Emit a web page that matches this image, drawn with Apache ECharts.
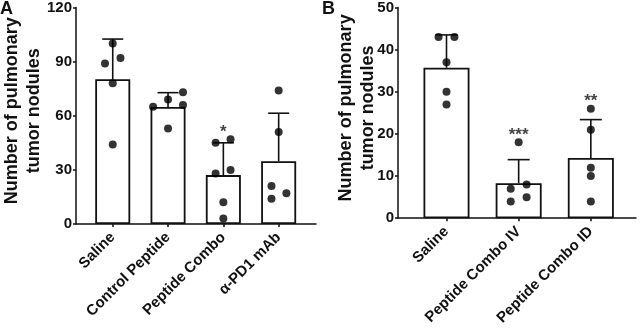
<!DOCTYPE html>
<html>
<head>
<meta charset="utf-8">
<script src="https://cdn.jsdelivr.net/npm/echarts@6/dist/echarts.min.js"></script>
<style>
  html, body { margin: 0; padding: 0; background: #fff; }
  #main { width: 641px; height: 328px; }
</style>
</head>
<body>
<div id="main"></div>
<script>
// panel A
var catsA = ['Saline', 'Control Peptide', 'Peptide Combo', 'α-PD1 mAb']
var meanA = [80.2, 64.9, 27.1, 34.8]
var sdTopA = [102.5, 72.8, 45, 61.4]
var dotsA = [
  [100, 89, 92, 78, 44],
  [65, 69, 73, 66, 53],
  [45, 47, 28, 30, 12, 3],
  [74, 51, 21, 17, 14]
]
// horizontal spread of the dots inside each group (category units)
var jitterA = [
  [0, -0.14, 0.14, 0, 0],
  [-0.27, 0, 0.27, 0.27, 0],
  [-0.14, 0.13, -0.14, 0.13, 0, 0],
  [0, 0, -0.13, 0.14, -0.13]
]
var sigA = ['', '', '*', '']
var ticksA = [0, 30, 60, 90, 120]

// panel B
var catsB = ['Saline', 'Peptide Combo IV', 'Peptide Combo ID']
var meanB = [35.7, 8.3, 14.3]
var sdTopB = [43.5, 13.9, 23.4]
var dotsB = [
  [43, 43, 37, 30, 27],
  [18, 7, 8, 4, 5],
  [26, 21, 12, 10, 4]
]
var jitterB = [
  [-0.11, 0.11, 0, 0, 0],
  [0, -0.11, 0.11, -0.11, 0.11],
  [0, 0, 0, 0, 0]
]
var sigB = ['', '***', '**']
var ticksB = [0, 10, 20, 30, 40, 50]

var FONT = 'Liberation Sans, Arial, sans-serif'
var INK = '#111'

let myChart = echarts.init(document.getElementById('main'))

function xAxisFor (gridIndex, cats, min, max) {
  let idx = cats.map((c, i) => i)
  return {
    type: 'value',
    gridIndex: gridIndex,
    min: min,
    max: max,
    splitLine: { show: false },
    axisLine: { show: true, onZero: false, lineStyle: { color: INK, width: 1.5 } },
    axisTick: { show: true, customValues: idx, length: 3, lineStyle: { color: INK, width: 1.5 } },
    axisLabel: {
      customValues: idx,
      rotate: 45,
      margin: 11,
      color: INK,
      fontFamily: FONT,
      fontWeight: 'bold',
      fontSize: 15,
      formatter: v => cats[Math.round(v)]
    }
  }
}

function yAxisFor (gridIndex, ticks, gap) {
  return {
    type: 'value',
    gridIndex: gridIndex,
    min: ticks[0],
    max: ticks[ticks.length - 1],
    interval: ticks[1] - ticks[0],
    name: 'Number of pulmonary\ntumor nodules',
    nameLocation: 'middle',
    nameRotate: 90,
    nameGap: gap,
    nameMoveOverlap: false,
    nameTextStyle: {
      color: INK,
      fontFamily: FONT,
      fontWeight: 'bold',
      fontSize: 18,
      lineHeight: 22,
      padding: [0, 0, 0, 10]
    },
    splitLine: { show: false },
    axisLine: { show: true, onZero: false, lineStyle: { color: INK, width: 1.5 } },
    axisTick: { show: true, length: 3, lineStyle: { color: INK, width: 1.5 } },
    axisLabel: {
      margin: 4,
      color: INK,
      fontFamily: FONT,
      fontWeight: 'bold',
      fontSize: 15
    }
  }
}

function seriesFor (axisIndex, means, sdTop, dots, jitter, sig, barWidth, capWidth) {
  let barData = means.map((m, i) => [i, m])
  let errData = means.map((m, i) => [i, m, sdTop[i]])
  let dotData = []
  dots.forEach((grp, i) => {
    grp.forEach((v, j) => dotData.push([i + jitter[i][j], v]))
  })
  let sigData = []
  sig.forEach((s, i) => {
    if (!s) return
    let top = Math.max(sdTop[i], Math.max.apply(null, dots[i]))
    sigData.push({ value: [i, top], label: { formatter: s } })
  })
  return [
    {
      type: 'bar',
      xAxisIndex: axisIndex,
      yAxisIndex: axisIndex,
      barWidth: barWidth,
      data: barData,
      itemStyle: { color: '#fff', borderColor: INK, borderWidth: 1.8 },
      z: 2
    },
    {
      type: 'custom',
      xAxisIndex: axisIndex,
      yAxisIndex: axisIndex,
      data: errData,
      z: 3,
      renderItem: (params, api) => {
        let base = api.coord([api.value(0), api.value(1)])
        let top = api.coord([api.value(0), api.value(2)])
        let style = { stroke: INK, lineWidth: 1.6 }
        return {
          type: 'group',
          children: [
            { type: 'line', shape: { x1: base[0], y1: base[1], x2: top[0], y2: top[1] }, style: style },
            { type: 'line', shape: { x1: top[0] - capWidth / 2, y1: top[1], x2: top[0] + capWidth / 2, y2: top[1] }, style: style }
          ]
        }
      }
    },
    {
      type: 'scatter',
      xAxisIndex: axisIndex,
      yAxisIndex: axisIndex,
      data: dotData,
      symbol: 'circle',
      symbolSize: 8,
      itemStyle: { color: '#000' },
      z: 4
    },
    {
      type: 'scatter',
      xAxisIndex: axisIndex,
      yAxisIndex: axisIndex,
      data: sigData,
      symbolSize: 0,
      silent: true,
      label: {
        show: true,
        position: 'inside',
        offset: [0, -7],
        color: INK,
        fontFamily: FONT,
        fontWeight: 'bold',
        fontSize: 17
      },
      z: 5
    }
  ]
}

let option = {
  backgroundColor: '#fff',
  animation: false,
  graphic: [
    { type: 'text', left: 0, top: 0, style: { text: 'A', fill: INK, font: 'bold 18px ' + FONT } },
    { type: 'text', left: 322, top: 0, style: { text: 'B', fill: INK, font: 'bold 18px ' + FONT } }
  ],
  grid: [
    { left: 73, top: 7, width: 243, height: 217 },
    { left: 398, top: 7, width: 238, height: 214 }
  ],
  xAxis: [
    xAxisFor(0, catsA, -0.664, 3.675),
    xAxisFor(1, catsB, -0.672, 2.626)
  ],
  yAxis: [
    yAxisFor(0, ticksA, 31),
    yAxisFor(1, ticksB, 19)
  ],
  series: [].concat(
    seriesFor(0, meanA, sdTopA, dotsA, jitterA, sigA, 35, 21),
    seriesFor(1, meanB, sdTopB, dotsB, jitterB, sigB, 46, 22)
  )
}
myChart.setOption(option, true)
</script>
</body>
</html>
